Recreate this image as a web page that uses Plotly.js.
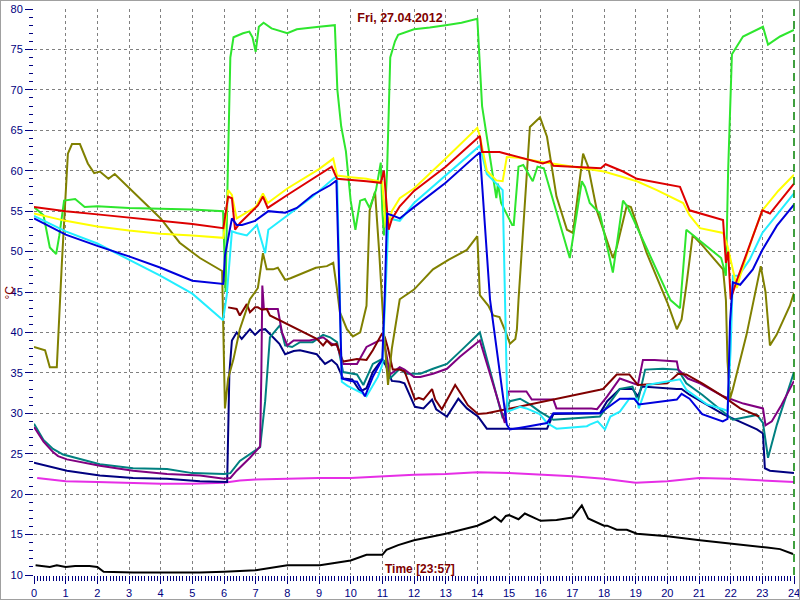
<!DOCTYPE html>
<html>
<head>
<meta charset="utf-8">
<script src="https://cdn.plot.ly/plotly-3.0.1.min.js"></script>
<style>
  html, body { margin: 0; padding: 0; background: #ffffff; }
  #wrap { position: absolute; left: 0; top: 0; width: 798px; height: 598px; border: 1px solid #a0a0a0; }
</style>
</head>
<body>
<div id="wrap"><div id="chart"></div></div>
<script>
// ---- data (hours, °C) ----
const greenX = [0, 0.3, 0.5, 0.7, 0.8, 0.95, 1.3, 1.6, 2, 3, 4, 5, 5.97, 6.05, 6.12, 6.2, 6.3, 6.6, 6.8, 6.9, 7.0, 7.1, 7.25, 7.5, 8, 8.3, 9, 9.5, 9.58, 9.7, 9.85, 10.0, 10.15, 10.3, 10.45, 10.6, 10.8, 10.95, 11.0, 11.05, 11.15, 11.25, 11.4, 11.5, 12, 12.5, 13, 13.5, 14.0, 14.15, 14.6, 14.65, 14.75, 15.1, 15.15, 15.3, 15.45, 15.75, 15.9, 16.1, 16.92, 17.3, 17.4, 17.55, 17.87, 18.28, 18.6, 18.75, 20.1, 20.4, 20.6, 21.0, 21.7, 21.85, 21.92, 22.04, 22.39, 23.02, 23.18, 23.56, 24];
const greenY = [55.5, 54.5, 50.5, 49.7, 52.0, 56.3, 56.5, 55.5, 55.6, 55.4, 55.3, 55.2, 55.0, 45.0, 60.0, 74.0, 76.5, 77.0, 77.2, 76.5, 74.7, 77.8, 78.3, 77.6, 77.0, 77.5, 77.8, 78.0, 70.0, 65.5, 62.4, 56.3, 52.7, 56.3, 56.5, 55.4, 57.6, 61.0, 55.0, 52.0, 60.0, 74.0, 76.0, 76.8, 77.5, 77.7, 78.0, 78.3, 78.8, 68.0, 56.6, 58.4, 56.0, 53.3, 53.3, 60.5, 60.7, 58.7, 60.5, 60.3, 49.2, 58.7, 58.0, 56.0, 54.7, 47.4, 56.3, 55.5, 44.0, 43.0, 52.7, 51.4, 49.2, 47.0, 60.0, 74.4, 76.6, 77.8, 75.6, 76.6, 77.4];

const yellowX = [0, 1, 2, 3, 4, 5, 5.98, 6.05, 6.13, 6.25, 6.4, 7.0, 7.23, 7.38, 8.0, 8.5, 9.0, 9.45, 9.57, 10.0, 10.5, 11.0, 11.1, 11.2, 11.3, 11.55, 12, 13, 14.0, 14.08, 14.3, 14.6, 14.8, 14.93, 15.3, 16, 17, 18, 19.04, 19.67, 20.5, 20.7, 21.03, 21.76, 21.9, 22.0, 22.2, 22.3, 22.7, 23.0, 23.5, 24];
const yellowY = [54.7, 53.8, 53.1, 52.6, 52.2, 52.0, 51.7, 53.9, 57.6, 57.0, 54.1, 55.5, 57.2, 56.0, 57.8, 59.0, 60.2, 61.5, 59.4, 59.2, 59.0, 58.6, 53.0, 53.5, 55.0, 56.6, 57.8, 61.5, 65.3, 64.3, 60.0, 58.8, 58.7, 61.7, 61.6, 61.1, 60.5, 59.9, 58.7, 57.6, 56.0, 54.5, 52.9, 52.3, 50.7, 49.0, 45.5, 47.0, 51.9, 55.1, 57.5, 59.5];

const redX = [0, 1, 2, 3, 4, 5, 5.98, 6.05, 6.13, 6.25, 6.35, 6.5, 7.07, 7.23, 7.38, 8.0, 8.8, 9.4, 9.57, 10.0, 10.5, 10.95, 11.05, 11.15, 11.2, 11.3, 11.55, 12, 13, 14.08, 14.15, 14.7, 15.25, 16.07, 16.3, 16.4, 17.9, 18.05, 18.6, 19.04, 20.4, 20.7, 21.76, 21.85, 21.92, 22.0, 22.2, 23.0, 23.24, 24];
const redY = [55.5, 55.0, 54.6, 54.2, 53.8, 53.4, 52.9, 54.5, 56.8, 56.6, 52.7, 53.5, 55.7, 56.8, 55.4, 57.0, 59.0, 60.5, 59.0, 58.9, 58.7, 58.5, 60.0, 55.0, 52.7, 54.0, 55.6, 57.5, 60.5, 64.3, 62.3, 62.3, 61.7, 60.9, 61.2, 60.6, 60.3, 60.8, 59.9, 59.0, 58.0, 55.1, 53.9, 48.6, 50.0, 44.1, 46.5, 55.1, 54.7, 58.4];

const blueX = [0, 1, 2, 3, 4, 5, 5.98, 6.03, 6.25, 6.4, 6.57, 6.98, 7.4, 7.93, 8.3, 8.8, 9.35, 9.55, 9.72, 10.0, 10.2, 10.45, 10.7, 11.0, 11.08, 11.15, 11.3, 11.55, 12, 13, 14.08, 14.4, 14.93, 15.03, 15.5, 16.2, 16.4, 17.87, 18.5, 18.95, 19.1, 20.3, 20.45, 20.7, 21.1, 21.75, 21.9, 21.98, 22.07, 22.3, 22.7, 23.0, 23.46, 24];
const blueY = [54.1, 52.1, 50.7, 49.4, 48.0, 46.4, 46.0, 49.5, 54.1, 53.3, 53.3, 53.8, 55.0, 54.8, 55.4, 57.0, 58.2, 58.8, 34.3, 34.0, 33.9, 32.1, 34.5, 36.7, 45.0, 54.7, 54.5, 54.1, 55.5, 58.5, 62.3, 44.1, 28.6, 28.0, 28.3, 28.8, 30.0, 30.0, 31.8, 31.8, 31.1, 31.7, 32.4, 31.8, 29.9, 29.0, 29.3, 41.3, 46.2, 45.9, 47.8, 50.2, 53.2, 55.8];

const cyanX = [0, 1, 2, 3, 4, 5, 5.97, 6.09, 6.2, 6.25, 6.4, 6.72, 7.04, 7.3, 7.4, 7.77, 8.0, 8.8, 9.45, 9.57, 9.72, 9.9, 10.4, 10.5, 10.86, 11.0, 11.1, 11.2, 11.55, 12.0, 14.08, 14.2, 14.3, 14.8, 14.95, 15.35, 15.55, 15.97, 16.2, 16.5, 17.46, 17.55, 17.8, 18.03, 18.2, 18.5, 18.8, 19.04, 19.1, 19.36, 20.0, 20.4, 20.6, 21.25, 21.76, 21.9, 22.0, 22.07, 22.25, 22.6, 23.0, 24];
const cyanY = [54.4, 52.5, 51.0, 49.0, 47.0, 44.8, 41.5, 44.7, 50.7, 52.5, 52.3, 52.0, 53.3, 49.8, 52.7, 53.8, 54.4, 56.8, 59.0, 59.3, 33.9, 33.4, 32.4, 32.1, 34.5, 36.0, 45.0, 54.1, 53.8, 56.0, 63.1, 61.1, 59.6, 57.6, 30.2, 30.8, 30.6, 29.9, 28.8, 28.1, 28.4, 28.6, 29.0, 28.0, 29.6, 30.2, 31.8, 31.8, 30.6, 33.5, 33.9, 34.2, 32.9, 31.1, 30.5, 30.3, 38.0, 47.0, 47.0, 49.0, 52.3, 57.2];

const oliveX = [0, 0.35, 0.5, 0.72, 0.88, 1.07, 1.2, 1.45, 1.7, 1.9, 2.08, 2.35, 2.55, 2.87, 3.35, 4.0, 4.6, 5.24, 5.94, 6.03, 6.13, 6.3, 6.5, 6.82, 7.07, 7.23, 7.35, 7.55, 7.7, 7.93, 8.1, 8.4, 8.7, 8.9, 9.25, 9.45, 9.57, 9.66, 9.88, 10.07, 10.3, 10.5, 10.6, 10.77, 10.9, 11.05, 11.18, 11.3, 11.55, 12.0, 12.6, 13.1, 13.67, 14.0, 14.08, 14.35, 14.5, 14.7, 14.9, 15.03, 15.2, 15.25, 15.3, 15.66, 15.98, 16.2, 16.5, 16.83, 17.02, 17.34, 17.5, 17.78, 18.28, 18.4, 18.72, 18.85, 19.35, 20.0, 20.3, 20.45, 20.6, 20.8, 21.1, 21.76, 21.85, 21.9, 21.98, 22.07, 22.5, 22.95, 23.1, 23.24, 23.45, 23.87, 24];
const oliveY = [38.2, 37.8, 35.7, 35.7, 48.6, 62.1, 63.3, 63.3, 60.9, 59.7, 59.9, 59.0, 59.6, 58.4, 56.6, 54.1, 51.1, 49.2, 47.6, 30.6, 34.3, 36.7, 40.4, 44.1, 45.5, 49.8, 47.8, 47.8, 48.0, 46.5, 46.7, 47.2, 47.6, 48.0, 48.2, 48.6, 45.3, 42.5, 40.4, 39.5, 40.0, 43.3, 55.1, 57.4, 50.0, 40.0, 33.5, 38.0, 44.1, 45.3, 47.8, 49.0, 50.2, 51.9, 44.6, 43.3, 42.1, 41.9, 40.0, 38.6, 39.2, 40.4, 44.0, 65.4, 66.6, 64.2, 56.8, 52.7, 52.3, 62.1, 60.5, 55.0, 49.2, 50.5, 55.7, 55.5, 49.8, 43.7, 40.4, 41.6, 45.8, 52.0, 50.8, 47.8, 44.0, 36.4, 31.8, 33.0, 39.7, 48.2, 45.0, 38.4, 39.7, 43.3, 44.9];

const maroonX = [6.13, 6.4, 6.5, 6.72, 6.82, 6.98, 7.07, 7.2, 7.35, 7.45, 8.93, 9.13, 9.25, 9.4, 9.55, 9.76, 10.2, 10.5, 10.7, 10.98, 11.08, 11.18, 11.33, 11.55, 11.7, 12.03, 12.15, 12.3, 12.57, 12.67, 12.88, 13.14, 13.3, 13.5, 13.7, 14.02, 14.3, 17.87, 17.97, 18.4, 18.8, 19.07, 20.0, 20.34, 20.6, 21.1, 21.76, 22.3, 22.9];
const maroonY = [43.1, 42.9, 42.1, 43.5, 42.5, 43.1, 43.1, 42.8, 42.9, 42.1, 39.2, 38.4, 39.0, 38.4, 38.6, 36.4, 36.7, 36.6, 37.8, 39.8, 39.4, 38.0, 35.4, 35.4, 35.2, 31.7, 31.9, 31.7, 33.0, 31.7, 30.5, 32.4, 33.5, 32.3, 31.0, 29.9, 30.0, 32.9, 33.0, 34.8, 34.8, 33.5, 33.7, 34.9, 34.8, 33.7, 32.1, 30.6, 29.6];

const purpleX = [0, 0.3, 0.6, 0.76, 1.04, 2.08, 3.13, 4.2, 5.24, 6.0, 6.2, 6.4, 6.82, 7.14, 7.18, 7.21, 7.26, 7.7, 7.83, 8.0, 8.2, 8.7, 8.93, 9.13, 9.4, 9.57, 9.76, 10.2, 10.5, 10.9, 11.05, 11.24, 11.55, 11.7, 12.0, 12.2, 12.6, 13.04, 13.45, 14.08, 14.87, 14.97, 15.55, 15.72, 16.4, 16.5, 17.6, 17.78, 18.1, 18.5, 19.07, 19.23, 19.6, 20.3, 20.35, 20.65, 21.03, 21.76, 22.4, 23.02, 23.1, 23.3, 23.6, 24];
const purpleY = [28.3, 26.5, 25.2, 24.7, 24.3, 23.5, 22.9, 22.5, 22.3, 21.9, 22.0, 22.9, 24.5, 25.9, 35.0, 45.8, 42.9, 42.9, 40.0, 38.4, 39.0, 39.0, 39.2, 39.4, 38.6, 38.4, 36.1, 36.1, 38.2, 39.0, 39.0, 34.8, 35.7, 35.4, 34.5, 34.5, 34.9, 35.5, 37.0, 39.0, 28.8, 32.7, 32.7, 31.7, 31.7, 30.6, 30.6, 30.5, 32.1, 34.3, 33.5, 36.6, 36.6, 36.4, 35.4, 34.3, 33.7, 32.1, 31.2, 30.6, 28.5, 29.0, 31.0, 34.0];

const tealX = [0, 0.3, 0.6, 0.92, 2.08, 3.13, 4.2, 5.0, 6.0, 6.2, 6.5, 7.04, 7.14, 7.3, 7.45, 7.77, 7.93, 8.15, 8.4, 8.8, 9.13, 9.35, 9.57, 9.76, 10.2, 10.4, 10.7, 10.98, 11.1, 11.24, 11.55, 11.75, 12.2, 12.6, 13.04, 13.55, 14.08, 14.8, 15.03, 15.35, 15.66, 15.97, 16.4, 17.87, 18.1, 18.5, 18.9, 19.07, 19.3, 19.86, 20.34, 20.6, 21.1, 21.76, 22.07, 22.83, 23.02, 23.18, 23.46, 24];
const tealY = [28.7, 26.7, 25.6, 24.9, 23.7, 23.2, 23.1, 22.6, 22.5, 22.6, 24.1, 25.6, 25.8, 31.5, 39.4, 40.9, 38.4, 38.2, 38.8, 38.8, 39.7, 39.4, 38.8, 35.1, 34.8, 33.5, 36.1, 36.7, 36.4, 34.3, 35.5, 34.9, 34.9, 35.5, 36.1, 38.0, 40.0, 29.4, 31.5, 31.8, 31.1, 30.2, 29.2, 29.6, 30.8, 33.0, 33.3, 31.5, 35.4, 35.5, 35.4, 33.7, 32.3, 30.2, 29.2, 29.8, 28.8, 24.5, 28.6, 35.1];

const navyX = [0, 1.04, 2.08, 3.13, 4.2, 5.24, 6.1, 6.17, 6.25, 6.4, 6.56, 6.82, 6.98, 7.14, 7.3, 7.55, 7.75, 7.93, 8.2, 8.4, 8.93, 9.19, 9.4, 9.57, 9.76, 10.05, 10.3, 10.5, 10.7, 10.98, 11.1, 11.3, 11.55, 11.7, 12.03, 12.3, 12.57, 12.7, 13.04, 13.4, 13.67, 14.02, 14.3, 16.2, 16.4, 17.87, 18.1, 18.5, 18.9, 19.07, 19.2, 20.3, 20.45, 20.7, 21.76, 22.83, 23.02, 23.08, 23.24, 24];
const navyY = [23.9, 22.9, 22.3, 22.0, 21.9, 21.6, 21.5, 35.0, 39.0, 40.0, 39.2, 40.4, 39.7, 40.3, 40.4, 39.4, 38.6, 37.3, 37.7, 37.8, 37.3, 36.1, 36.6, 36.0, 34.3, 34.2, 32.7, 33.1, 35.1, 36.6, 36.0, 34.0, 33.9, 33.7, 30.8, 30.6, 31.7, 30.5, 29.6, 31.8, 30.6, 29.6, 28.1, 28.1, 29.9, 30.0, 31.5, 33.0, 33.0, 32.1, 33.3, 33.0, 33.0, 32.3, 29.9, 28.0, 27.5, 23.2, 22.9, 22.6];

const magentaX = [0.1, 1, 2, 3, 4, 5, 6, 6.5, 7, 8, 9, 10, 11, 12, 13, 14, 15, 16, 17, 18, 19, 20, 21, 22, 23, 24];
const magentaY = [22.0, 21.6, 21.5, 21.4, 21.3, 21.3, 21.4, 21.7, 21.8, 21.9, 22.0, 22.0, 22.2, 22.4, 22.5, 22.7, 22.6, 22.4, 22.2, 21.9, 21.4, 21.6, 22.0, 21.9, 21.7, 21.5];

const blackX = [0.05, 0.5, 0.72, 1.0, 1.3, 1.75, 2.0, 2.2, 3.13, 4.2, 5.24, 6.0, 7.0, 8.0, 9.03, 10.0, 10.5, 11.0, 11.13, 11.5, 12, 13, 14, 14.4, 14.55, 14.75, 14.9, 15.0, 15.3, 15.5, 16, 16.5, 17.0, 17.3, 17.5, 18.0, 18.1, 18.4, 18.72, 19.04, 20.0, 21.03, 22.07, 23.15, 23.56, 23.97];
const blackY = [11.2, 11.0, 11.2, 11.0, 11.1, 11.1, 11.0, 10.4, 10.3, 10.3, 10.3, 10.4, 10.6, 11.2, 11.2, 11.8, 12.5, 12.5, 13.1, 13.7, 14.3, 15.1, 16.1, 16.8, 17.2, 16.6, 17.3, 17.4, 16.9, 17.6, 16.7, 16.8, 17.1, 18.6, 17.0, 16.1, 16.1, 15.6, 15.6, 15.1, 14.8, 14.3, 13.9, 13.4, 13.2, 12.6];

const seriesList = [
  {name: 'black',   x: blackX,   y: blackY,   color: '#000000'},
  {name: 'magenta', x: magentaX, y: magentaY, color: '#e62ee6'},
  {name: 'navy',    x: navyX,    y: navyY,    color: '#000080'},
  {name: 'teal',    x: tealX,    y: tealY,    color: '#008080'},
  {name: 'purple',  x: purpleX,  y: purpleY,  color: '#800080'},
  {name: 'maroon',  x: maroonX,  y: maroonY,  color: '#800000'},
  {name: 'olive',   x: oliveX,   y: oliveY,   color: '#808000'},
  {name: 'green',   x: greenX,   y: greenY,   color: '#2ee62e'},
  {name: 'cyan',    x: cyanX,    y: cyanY,    color: '#22eeff'},
  {name: 'yellow',  x: yellowX,  y: yellowY,  color: '#ffff00'},
  {name: 'red',     x: redX,     y: redY,     color: '#dd0000'},
  {name: 'blue',    x: blueX,    y: blueY,    color: '#0000dd'}
];

const traces = seriesList.map(s => ({
  type: 'scatter', mode: 'lines', name: s.name,
  x: s.x, y: s.y,
  line: {color: s.color, width: 2},
  hoverinfo: 'x+y'
}));

const tickFont = {family: 'Liberation Sans, Arial, sans-serif', size: 11, color: '#000080'};
const dark = '#800000';

const layout = {
  width: 798, height: 598,
  margin: {l: 33, r: 5, t: 8, b: 24, pad: 0},
  paper_bgcolor: '#ffffff', plot_bgcolor: '#ffffff',
  showlegend: false,
  title: {
    text: '<b>Fri, 27.04.2012</b>',
    font: {family: 'Liberation Sans, Arial, sans-serif', size: 12.5, color: dark},
    x: 0.5, xref: 'container', xanchor: 'center',
    y: 0.972, yref: 'container', yanchor: 'middle'
  },
  xaxis: {
    range: [0, 24], tick0: 0, dtick: 1,
    ticks: 'outside', ticklen: 8, tickwidth: 1, tickcolor: '#000080',
    minor: {dtick: 0.1, ticks: 'outside', ticklen: 5, tickcolor: '#000080', showgrid: false},
    showgrid: true, gridcolor: '#808080', gridwidth: 1, griddash: '3px,3px',
    zeroline: false, showline: false, ticklabeloverflow: 'allow',
    tickfont: tickFont, fixedrange: true
  },
  yaxis: {
    range: [10, 80], tick0: 10, dtick: 5,
    ticks: 'outside', ticklen: 8, tickwidth: 1, tickcolor: '#000080',
    minor: {dtick: 1, ticks: 'outside', ticklen: 4, tickcolor: '#000080', showgrid: false},
    showgrid: true, gridcolor: '#808080', gridwidth: 1, griddash: '3px,3px',
    zeroline: false, showline: false, ticklabeloverflow: 'allow',
    tickfont: tickFont, fixedrange: true
  },
  shapes: [
    {type: 'line', xref: 'paper', yref: 'paper', x0: 1, x1: 1, y0: 0, y1: 1,
     line: {color: '#008000', width: 1.5, dash: '8px,5px'}, layer: 'above'}
  ],
  annotations: [
    {text: '<b>Time [23:57]</b>', xref: 'paper', yref: 'paper', x: 0.508, y: 0.0105,
     xanchor: 'center', yanchor: 'middle', showarrow: false,
     font: {family: 'Liberation Sans, Arial, sans-serif', size: 12, color: dark}},
    {text: '°C', xref: 'paper', yref: 'paper', x: -0.031, y: 0.5,
     xanchor: 'center', yanchor: 'middle', showarrow: false, textangle: -90,
     font: {family: 'Liberation Sans, Arial, sans-serif', size: 12, color: dark}}
  ]
};

Plotly.newPlot('chart', traces, layout, {displayModeBar: false, staticPlot: true});
</script>
</body>
</html>
